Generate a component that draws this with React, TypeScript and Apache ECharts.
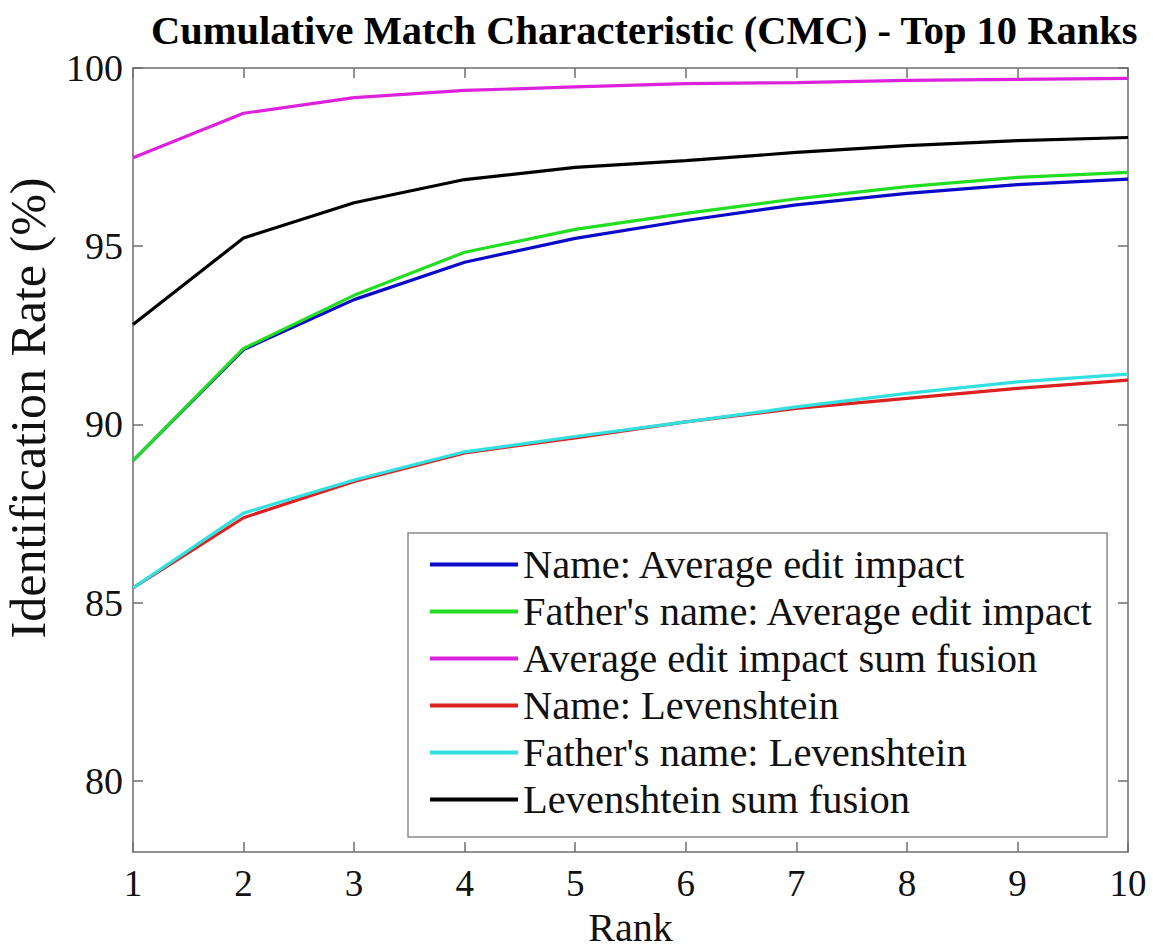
import React, { useEffect, useRef } from "react";
import * as echarts from "echarts";

const ranks = [1, 2, 3, 4, 5, 6, 7, 8, 9, 10];
const nameAEI = [88.98, 92.1, 93.5, 94.55, 95.22, 95.72, 96.16, 96.48, 96.73, 96.88];
const fatherAEI = [88.98, 92.13, 93.62, 94.83, 95.47, 95.92, 96.33, 96.67, 96.93, 97.07];
const fusionAEI = [97.48, 98.73, 99.17, 99.37, 99.47, 99.56, 99.59, 99.65, 99.68, 99.71];
const nameLev = [85.41, 87.38, 88.4, 89.2, 89.62, 90.07, 90.45, 90.73, 91.01, 91.24];
const fatherLev = [85.41, 87.51, 88.44, 89.23, 89.66, 90.07, 90.49, 90.87, 91.19, 91.41];
const fusionLev = [92.8, 95.23, 96.22, 96.87, 97.21, 97.4, 97.63, 97.82, 97.96, 98.05];

const yTicks = [80, 85, 90, 95, 100];

const seriesDefs = [
  { name: "Name: Average edit impact", data: nameAEI, color: "#0a0ac8" },
  { name: "Father's name: Average edit impact", data: fatherAEI, color: "#22dd22" },
  { name: "Average edit impact sum fusion", data: fusionAEI, color: "#dd22dd" },
  { name: "Name: Levenshtein", data: nameLev, color: "#dd2020" },
  { name: "Father's name: Levenshtein", data: fatherLev, color: "#33e0e0" },
  { name: "Levenshtein sum fusion", data: fusionLev, color: "#000000" },
];

const FONT = "'Liberation Serif', 'Times New Roman', serif";
const AXIS_COLOR = "#6e6e6e";

export default function App() {
  const ref = useRef<HTMLDivElement>(null);

  useEffect(() => {
    if (!ref.current) return;
    const chart = echarts.init(ref.current, undefined, { renderer: "svg" });
    const tickCommon = { show: true, inside: true, length: 10, lineStyle: { color: AXIS_COLOR, width: 1.5 } };
    const option: any = {
      animation: false,
      backgroundColor: "#ffffff",
      title: {
        text: "Cumulative Match Characteristic (CMC) - Top 10 Ranks",
        left: 146,
        top: 5,
        textStyle: { fontFamily: FONT, fontWeight: "bold", fontSize: 40.5, color: "#000" },
      },
      grid: { left: 133, right: 25, top: 68, bottom: 97, outerBoundsMode: "none", containLabel: false },
      legend: {
        orient: "vertical",
        left: 408,
        top: 533,
        padding: [11, 13, 17, 22],
        itemGap: 6,
        itemWidth: 88,
        itemHeight: 4,
        icon: "rect",
        backgroundColor: "#ffffff",
        borderColor: "#8a8a8a",
        borderWidth: 1.5,
        textStyle: { fontFamily: FONT, fontSize: 40.5, color: "#111", lineHeight: 39 },
        data: seriesDefs.map((s) => ({ name: s.name, itemStyle: { color: s.color } })),
      },
      xAxis: [
        {
          type: "value",
          min: 1,
          max: 10,
          interval: 1,
          position: "bottom",
          axisLine: { show: true, lineStyle: { color: AXIS_COLOR, width: 1.5 } },
          axisTick: tickCommon,
          splitLine: { show: false },
          axisLabel: { fontFamily: FONT, fontSize: 37, color: "#111", margin: 13 },
          name: "Rank",
          nameLocation: "middle",
          nameGap: 55,
          nameTextStyle: { fontFamily: FONT, fontSize: 40, color: "#111" },
        },
        {
          type: "value",
          min: 1,
          max: 10,
          interval: 1,
          position: "top",
          axisLine: { show: true, lineStyle: { color: AXIS_COLOR, width: 1.5 } },
          axisTick: tickCommon,
          splitLine: { show: false },
          axisLabel: { show: false },
        },
      ],
      yAxis: [
        {
          type: "value",
          min: 78,
          max: 100,
          position: "left",
          axisLine: { show: true, lineStyle: { color: AXIS_COLOR, width: 1.5 } },
          axisTick: { ...tickCommon, customValues: yTicks },
          splitLine: { show: false },
          axisLabel: { fontFamily: FONT, fontSize: 38, color: "#111", margin: 10, customValues: yTicks },
        },
        {
          type: "value",
          min: 78,
          max: 100,
          position: "right",
          axisLine: { show: true, lineStyle: { color: AXIS_COLOR, width: 1.5 } },
          axisTick: { ...tickCommon, customValues: yTicks },
          splitLine: { show: false },
          axisLabel: { show: false },
        },
      ],
      graphic: [
        {
          type: "text",
          x: 28,
          y: 408,
          rotation: Math.PI / 2,
          style: {
            text: "Identification Rate (%)",
            fontFamily: FONT,
            fontSize: 50,
            fill: "#111",
            align: "center",
            verticalAlign: "middle",
          },
        },
      ],
      series: seriesDefs.map((s) => ({
        type: "line",
        name: s.name,
        data: ranks.map((r, i) => [r, s.data[i]]),
        xAxisIndex: 0,
        yAxisIndex: 0,
        symbol: "none",
        lineStyle: { color: s.color, width: 3.2 },
        itemStyle: { color: s.color },
      })),
    };
    chart.setOption(option);
    return () => chart.dispose();
  }, []);

  return (
    <div
      ref={ref}
      style={{ position: "fixed", left: 0, top: 0, width: 1153, height: 949, background: "#fff" }}
    />
  );
}
